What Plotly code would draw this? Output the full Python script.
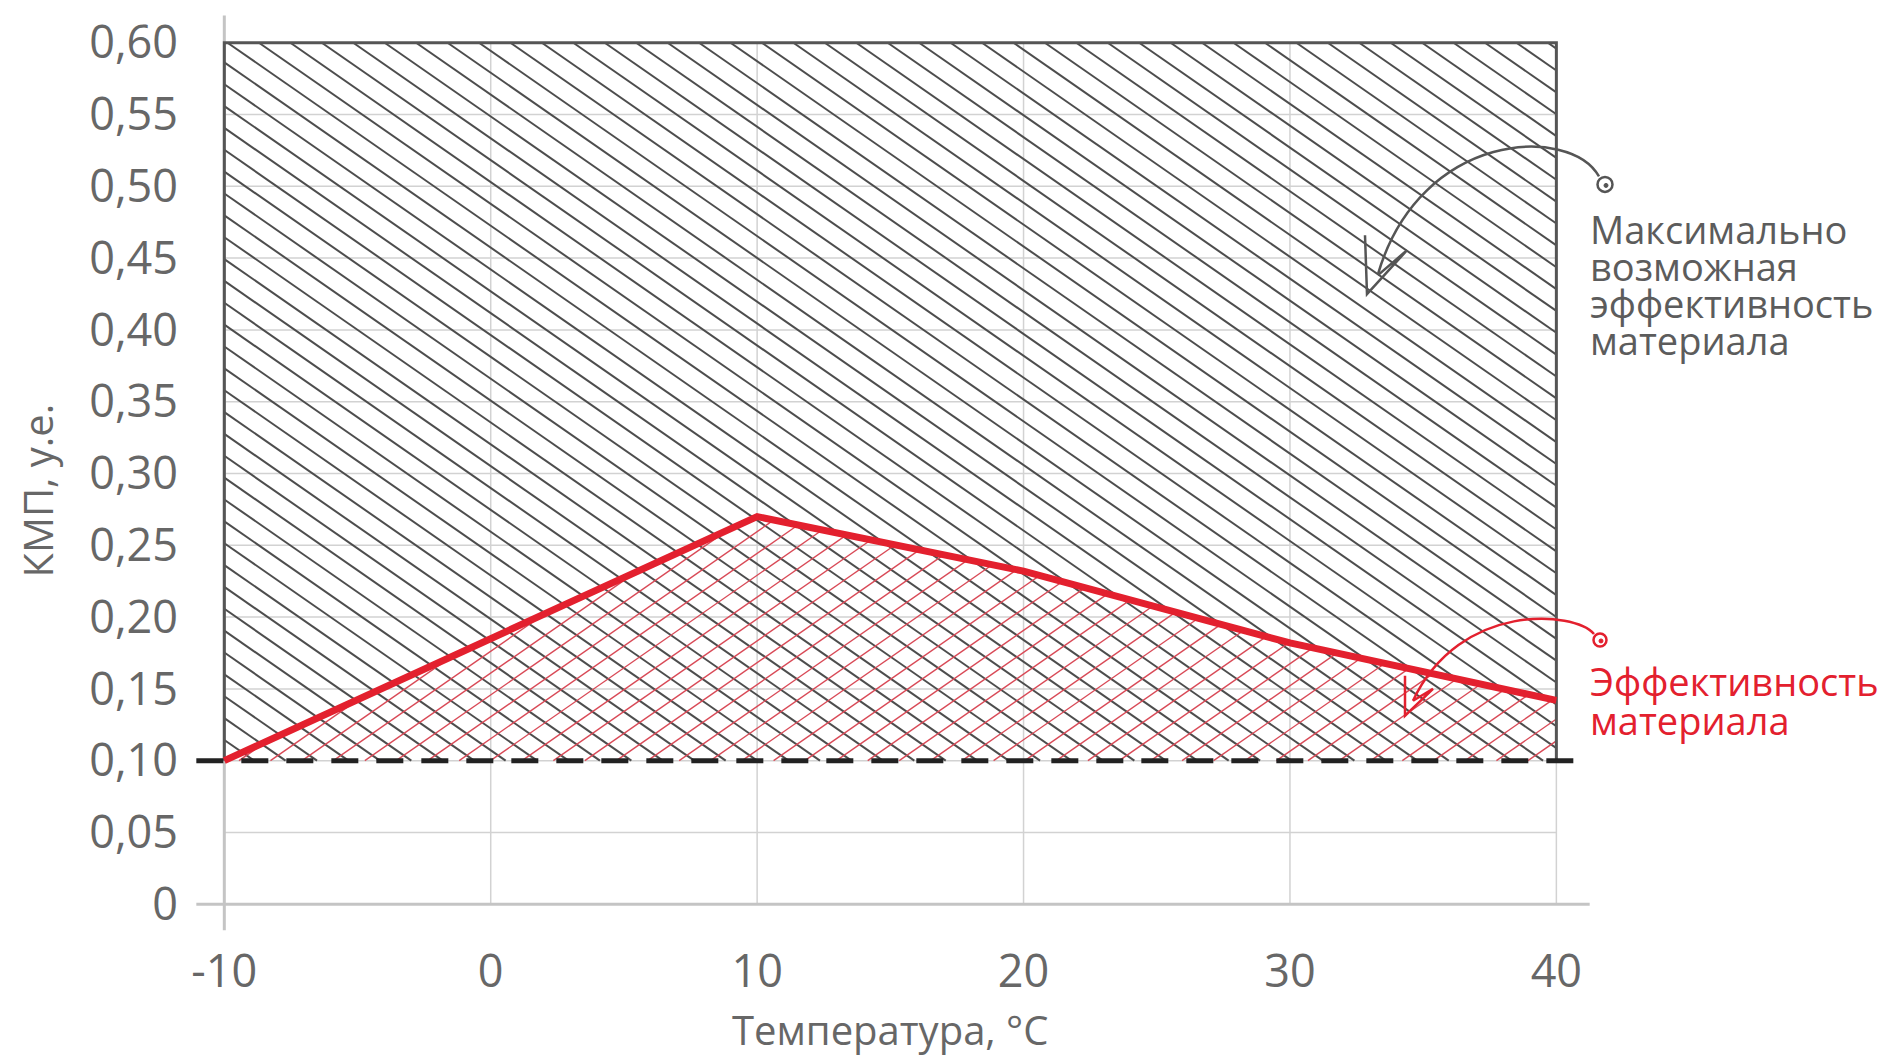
import numpy as np
import plotly.graph_objects as go

# ---------------- data ----------------
temps = [-10, 0, 10, 20, 30, 40]
efficiency = [0.10, 0.185, 0.27, 0.232, 0.182, 0.142]
base_level = 0.10
max_level = 0.60
x_ticks = [-10, 0, 10, 20, 30, 40]
x_tick_labels = ["-10", "0", "10", "20", "30", "40"]
y_ticks = [0, 0.05, 0.10, 0.15, 0.20, 0.25, 0.30, 0.35, 0.40, 0.45, 0.50, 0.55, 0.60]
y_tick_labels = ["0", "0,05", "0,10", "0,15", "0,20", "0,25", "0,30",
                 "0,35", "0,40", "0,45", "0,50", "0,55", "0,60"]
max_label_lines = ["Максимально", "возможная", "эффективность", "материала"]
eff_label_lines = ["Эффективность", "материала"]
x_title = "Температура, °C"
y_title = "КМП, у.е."

# ---------------- style / layout ----------------
W, H = 1892, 1056
OFF = 8  # page body margin
ML, MR, MT, MB = 195 - OFF, 301 + OFF, 11 - OFF, 123 + OFF
X_RANGE = [-11.1, 41.3]
Y_RANGE = [-0.02, 0.62]
FONT = "Open Sans"
TXT = "#676767"
RED = "#e3202e"
GRID = "#d2d2d2"
AXIS = "#c4c4c4"
DARK = "#555555"
HATCH_DX = 1.18       # horizontal spacing of hatch lines (x units)
HATCH_SLOPE = 0.0129  # y units per x unit

PW, PH = W - ML - MR, H - MT - MB


def px_x(p):
    return (p - OFF - ML) / PW


def px_y(p):
    return (H - MB - (p - OFF)) / PH


xmin, xmax = temps[0], temps[-1]

# gray "\" hatch over the max-possible region
gx, gy = [], []
span = (max_level - base_level) / HATCH_SLOPE
k0 = int(np.ceil(span / HATCH_DX)) + 1
for k in range(-k0, int((xmax - xmin) / HATCH_DX) + 2):
    x0 = xmin + 0.12 + k * HATCH_DX
    xa, xb = max(xmin, x0), min(xmax, x0 + span)
    if xb <= xa:
        continue
    gx += [xa, xb, None]
    gy += [max_level - HATCH_SLOPE * (xa - x0), max_level - HATCH_SLOPE * (xb - x0), None]

# red "/" hatch under the efficiency curve
rx, ry = [], []
xs = np.linspace(xmin, xmax, 6001)
fcurve = np.interp(xs, temps, efficiency)
span_r = (max(efficiency) - base_level) / HATCH_SLOPE
for k in range(-int(span_r / HATCH_DX) - 2, int((xmax - xmin) / HATCH_DX) + 2):
    x1 = xmin + 0.55 + k * HATCH_DX
    ys = base_level + HATCH_SLOPE * (xs - x1)
    inside = np.where((ys >= base_level - 1e-9) & (ys <= fcurve))[0]
    if len(inside) < 2:
        continue
    a, b = inside[0], inside[-1]
    rx += [xs[a], xs[b], None]
    ry += [ys[a], ys[b], None]

fig = go.Figure()
fig.add_trace(go.Scatter(x=gx, y=gy, mode="lines",
                         line=dict(color="#4d4d4d", width=2), hoverinfo="skip"))
fig.add_trace(go.Scatter(x=rx, y=ry, mode="lines",
                         line=dict(color="#d94a57", width=1.4), hoverinfo="skip"))
# dark border of max region
fig.add_trace(go.Scatter(x=[xmin, xmin, xmax, xmax],
                         y=[base_level, max_level, max_level, base_level],
                         mode="lines", line=dict(color=DARK, width=3), hoverinfo="skip"))
# dashed base line
fig.add_trace(go.Scatter(x=[X_RANGE[0] + 0.05, X_RANGE[1] - 0.05], y=[base_level, base_level],
                         mode="lines", line=dict(color="#222222", width=5, dash="27px,18px"),
                         hoverinfo="skip"))
# efficiency curve
fig.add_trace(go.Scatter(x=temps, y=efficiency, mode="lines",
                         line=dict(color=RED, width=7), hoverinfo="skip"))

shapes = []
# gridlines
for t in x_ticks[1:]:
    shapes.append(dict(type="line", xref="x", yref="y", x0=t, x1=t, y0=0, y1=max_level,
                       line=dict(color=GRID, width=1.5), layer="below"))
for v in y_ticks[1:-1]:
    shapes.append(dict(type="line", xref="x", yref="y", x0=xmin, x1=xmax, y0=v, y1=v,
                       line=dict(color=GRID, width=1.5), layer="below"))
# axis lines
shapes.append(dict(type="line", xref="x", yref="y", x0=xmin, x1=xmin,
                   y0=Y_RANGE[0] + 0.002, y1=Y_RANGE[1] - 0.001,
                   line=dict(color=AXIS, width=3), layer="below"))
shapes.append(dict(type="line", xref="x", yref="y", x0=X_RANGE[0] + 0.05, x1=X_RANGE[1] - 0.05,
                   y0=0, y1=0, line=dict(color=AXIS, width=3), layer="below"))


def bez_path(pts):
    (a, b), (c, d), (e, f), (g, h) = pts
    return (f"M {px_x(a)},{px_y(b)} C {px_x(c)},{px_y(d)} {px_x(e)},{px_y(f)} "
            f"{px_x(g)},{px_y(h)}")


def poly_path(pts):
    return "M " + " L ".join(f"{px_x(a)},{px_y(b)}" for a, b in pts)


def ring(cx, cy, r, color):
    return [dict(type="circle", xref="paper", yref="paper",
                 x0=px_x(cx - r), x1=px_x(cx + r), y0=px_y(cy + r), y1=px_y(cy - r),
                 line=dict(color=color, width=2.5)),
            dict(type="circle", xref="paper", yref="paper", fillcolor=color,
                 x0=px_x(cx - 1), x1=px_x(cx + 3), y0=px_y(cy + 3), y1=px_y(cy - 1),
                 line=dict(color=color, width=1))]


GRAYA = "#555555"
shapes.append(dict(type="path", xref="paper", yref="paper", layer="above",
                   path=bez_path([(1599, 174), (1570, 122), (1420, 128), (1378, 272)]),
                   line=dict(color=GRAYA, width=2.5)))
shapes.append(dict(type="path", xref="paper", yref="paper", layer="above",
                   path=poly_path([(1365, 233), (1367, 292), (1407, 248), (1378, 273)]),
                   line=dict(color=GRAYA, width=2.5)))
shapes += ring(1605, 182, 7.5, GRAYA)

shapes.append(dict(type="path", xref="paper", yref="paper", layer="above",
                   path=bez_path([(1594, 633), (1575, 610), (1460, 600), (1413, 700)]),
                   line=dict(color=RED, width=2.5)))
shapes.append(dict(type="path", xref="paper", yref="paper", layer="above",
                   path=poly_path([(1405, 675), (1405, 715), (1433, 688), (1413, 700)]),
                   line=dict(color=RED, width=2.5)))
shapes += ring(1600, 639, 6.5, RED)

annotations = []
for line, cy in zip(max_label_lines, [227, 264, 301, 338]):
    annotations.append(dict(text=line, xref="paper", yref="paper", x=px_x(1588), y=px_y(cy),
                            xanchor="left", yanchor="middle", showarrow=False,
                            font=dict(family=FONT, size=38, color="#5c5c5c")))
for line, cy in zip(eff_label_lines, [680, 719]):
    annotations.append(dict(text=line, xref="paper", yref="paper", x=px_x(1588), y=px_y(cy),
                            xanchor="left", yanchor="middle", showarrow=False,
                            font=dict(family=FONT, size=38, color=RED)))
annotations.append(dict(text=x_title, xref="x", yref="paper", x=15, y=px_y(1030),
                        xanchor="center", yanchor="middle", showarrow=False,
                        font=dict(family=FONT, size=40, color=TXT)))
annotations.append(dict(text=y_title, xref="paper", yref="paper", x=px_x(37), y=px_y(489),
                        xanchor="center", yanchor="middle", showarrow=False, textangle=-90,
                        font=dict(family=FONT, size=40, color=TXT)))

fig.update_layout(
    width=W, height=H,
    margin=dict(l=ML, r=MR, t=MT, b=MB, pad=0),
    paper_bgcolor="white", plot_bgcolor="white",
    showlegend=False,
    shapes=shapes, annotations=annotations,
    font=dict(family=FONT, color=TXT),
    xaxis=dict(range=X_RANGE, tickmode="array", tickvals=x_ticks, ticktext=x_tick_labels,
               showgrid=False, zeroline=False, showline=False, ticks="",
               tickfont=dict(family=FONT, size=45, color=TXT), ticklabelstandoff=8,
               ticklabeloverflow="allow", fixedrange=True),
    yaxis=dict(range=Y_RANGE, tickmode="array", tickvals=y_ticks, ticktext=y_tick_labels,
               showgrid=False, zeroline=False, showline=False, ticks="",
               tickfont=dict(family=FONT, size=45, color=TXT), ticklabelstandoff=16,
               ticklabeloverflow="allow", fixedrange=True),
)

fig.write_html("out.html", config=dict(displayModeBar=False))
